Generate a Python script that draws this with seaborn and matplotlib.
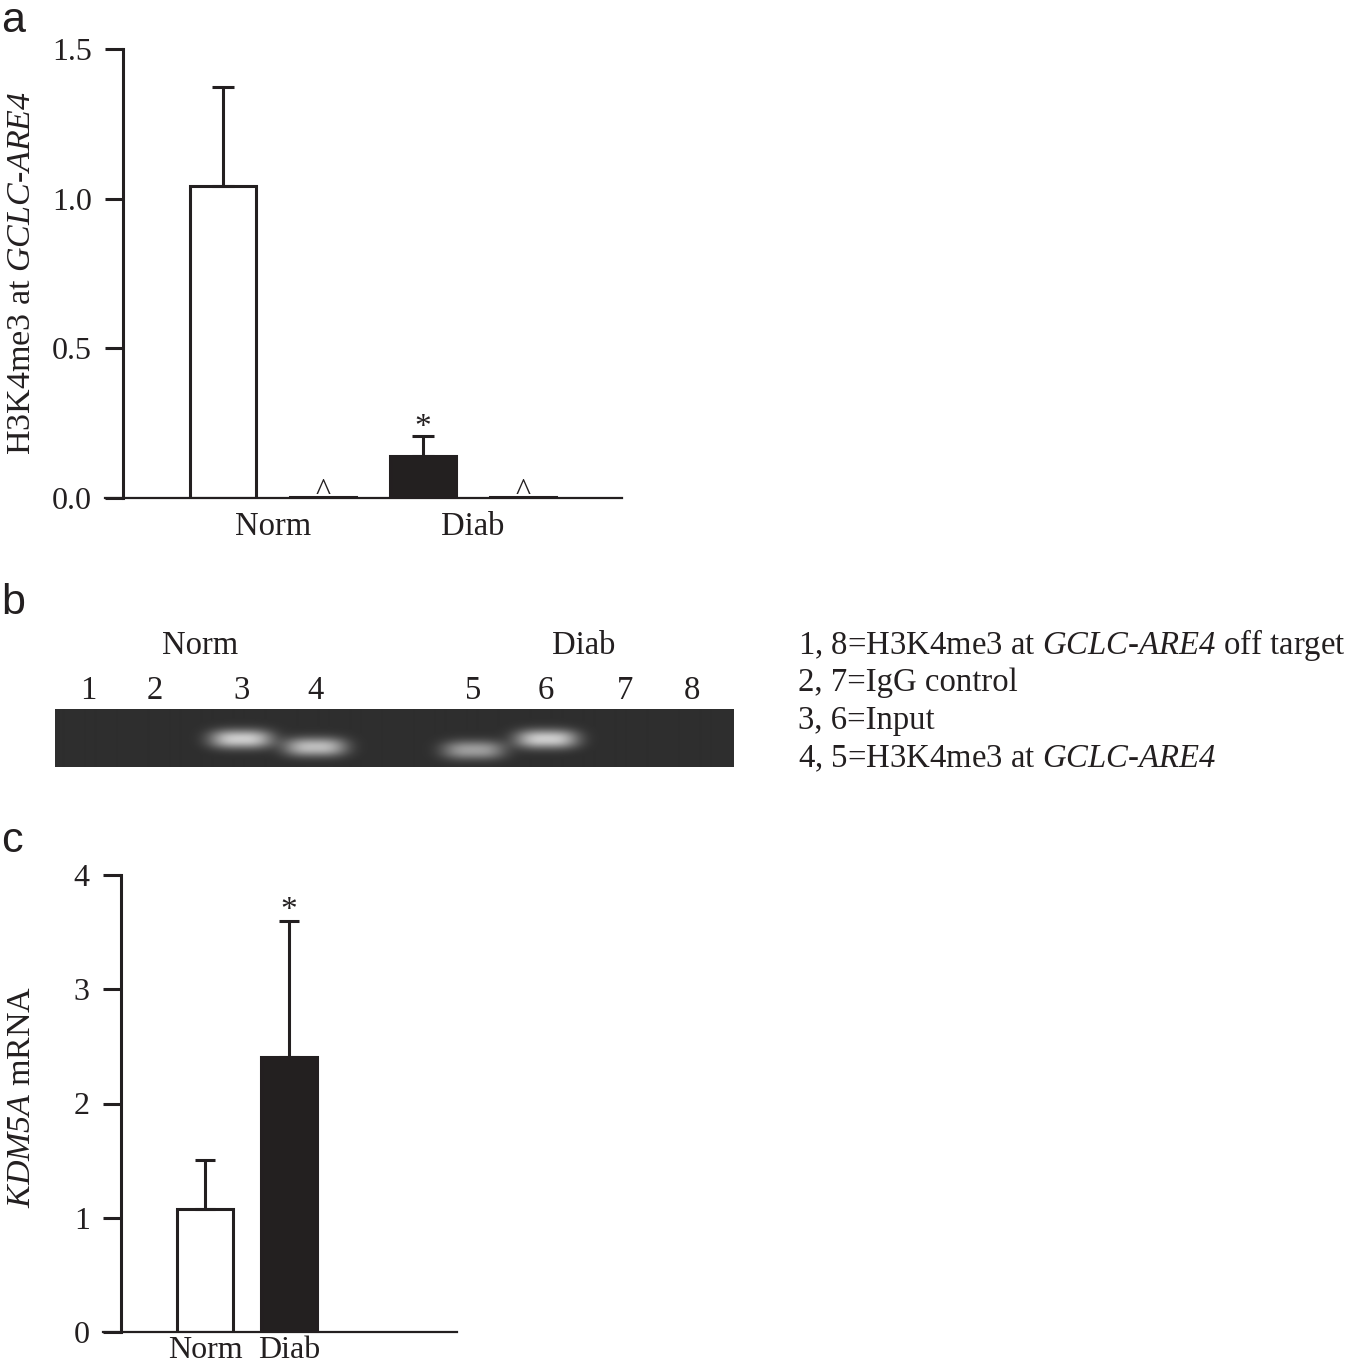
import numpy as np
import matplotlib
matplotlib.use("Agg")
import matplotlib.pyplot as plt
import seaborn as sns

# ---- panel a: ChIP, H3K4me3 at GCLC-ARE4 ----
chip_lanes = ["Norm H3K4me3", "Norm IgG", "Diab H3K4me3", "Diab IgG"]
chip_values = [1.042, 0.004, 0.14, 0.004]
chip_sem = [0.33, 0.0, 0.068, 0.0]
chip_marks = ["", "^", "*", "^"]
chip_groups = ["Norm", "Diab"]

# ---- panel b: gel ----
gel_lanes = ["1", "2", "3", "4", "5", "6", "7", "8"]
band_intensity = [0.0, 0.0, 1.0, 0.9, 0.7, 1.0, 0.0, 0.0]
band_row = [0, 0, 30, 38, 41, 30, 0, 0]   # migration, px from top of gel
gel_legend = [
    "1, 8=H3K4me3 at $\\mathsf{GCLC}$-$\\mathsf{ARE4}$ off target",
    "2, 7=IgG control",
    "3, 6=Input",
    "4, 5=H3K4me3 at $\\mathsf{GCLC}$-$\\mathsf{ARE4}$",
]

# ---- panel c: KDM5A mRNA ----
mrna_groups = ["Norm", "Diab"]
mrna_values = [1.077, 2.41]
mrna_sem = [0.43, 1.19]
mrna_marks = ["", "*"]

ink = "#231f20"
W, H = 1349, 1368

sns.set_theme(style="ticks")
plt.rcParams["font.family"] = ["Liberation Serif", "DejaVu Serif"]
plt.rcParams["mathtext.fontset"] = "custom"
plt.rcParams["mathtext.rm"] = "Liberation Serif"
plt.rcParams["mathtext.it"] = "Liberation Serif:italic"
# italic digits too (mathtext keeps digits upright in \mathit)
plt.rcParams["mathtext.sf"] = "Liberation Serif:italic"
plt.rcParams["text.color"] = ink
plt.rcParams["axes.edgecolor"] = ink
plt.rcParams["xtick.color"] = ink
plt.rcParams["ytick.color"] = ink
plt.rcParams["axes.labelcolor"] = ink

fig = plt.figure(figsize=(W / 100, H / 100), dpi=100)
fig.patch.set_facecolor("white")


def px_axes(left, top, right, bottom):
    return fig.add_axes([left / W, 1 - bottom / H, (right - left) / W, (bottom - top) / H])


def style_bar_axes(ax, spine_x):
    ax.set_facecolor("white")
    ax.spines[["top", "right"]].set_visible(False)
    ax.spines["left"].set_position(("data", spine_x))
    ax.spines["left"].set_linewidth(2.2)
    ax.spines["bottom"].set_linewidth(1.6)
    ax.tick_params(axis="y", length=13, width=2.2, pad=9.5, labelsize=23, direction="out")
    ax.tick_params(axis="x", length=0, labelsize=23.5)
    ax.grid(False)


# panel a
ax_a = px_axes(105, 49, 622, 498)
sns.barplot(x=chip_lanes, y=chip_values, hue=chip_lanes, order=chip_lanes, hue_order=chip_lanes,
            palette=["white", "white", ink, ink], edgecolor=ink, linewidth=2.2,
            width=0.66, errorbar=None, legend=False, ax=ax_a)
for i, (v, s) in enumerate(zip(chip_values, chip_sem)):
    if s > 0:
        ax_a.errorbar(i, v, yerr=[[0], [s]], fmt="none", ecolor=ink, elinewidth=2.2,
                      capsize=8, capthick=2.2, zorder=1)
    if chip_marks[i] == "*":
        ax_a.text(i, v + s + 0.028, "*", ha="center", va="center", fontsize=24)
    elif chip_marks[i] == "^":
        ax_a.text(i, v + 0.016, "^", ha="center", va="center", fontsize=23)
ax_a.set_xlim(-1.18, 3.99)
ax_a.set_ylim(0, 1.5)
ax_a.set_yticks([0, 0.5, 1.0, 1.5])
ax_a.set_xticks([0.5, 2.5], chip_groups)
style_bar_axes(ax_a, -1.0)
ax_a.tick_params(axis="x", pad=10)
ax_a.set_ylabel("H3K4me3 at $\\mathsf{GCLC}$-$\\mathsf{ARE4}$", fontsize=24.5)
ax_a.yaxis.set_label_coords(-0.131, 0.5)

# panel b: gel picture built from lane bands
ax_g = px_axes(55, 709, 733, 767)
gel_w, gel_h = 678, 58
lane_x = [33, 100, 186, 260, 418, 491, 570, 637]
xx = np.arange(gel_w) + 0.5
yy = np.arange(gel_h) + 0.5
gel = np.full((gel_h, gel_w), 0.18)
for cx, cy, amp in zip(lane_x, band_row, band_intensity):
    if amp > 0:
        prof_x = np.exp(-np.abs((xx - cx) / 31.0) ** 3)
        prof_y = np.exp(-np.abs((yy - cy) / 9.5) ** 2.2)
        gel += amp * 0.62 * np.outer(prof_y, prof_x)
gel = np.clip(gel, 0, 1)
ax_g.imshow(gel, cmap="gray", vmin=0, vmax=1, extent=(0, gel_w, gel_h, 0),
            aspect="auto", interpolation="bilinear")
ax_g.set_xlim(0, gel_w)
ax_g.set_ylim(gel_h, 0)
ax_g.set_xticks(lane_x, gel_lanes)
ax_g.xaxis.tick_top()
ax_g.tick_params(axis="x", length=0, pad=2, labelsize=23.5)
ax_g.set_yticks([])
for sp in ax_g.spines.values():
    sp.set_visible(False)
ax_g.text(np.mean(lane_x[:4]), -63, "Norm", ha="center", va="center", fontsize=23.5, clip_on=False)
ax_g.text(np.mean(lane_x[4:]), -63, "Diab", ha="center", va="center", fontsize=23.5, clip_on=False)
for k, line in enumerate(gel_legend):
    fig.text(798 / W, 1 - (645 + 38 * k) / H, line, ha="left", va="center", fontsize=23.6)

# panel c
ax_c = px_axes(103, 875, 457, 1332)
sns.barplot(x=mrna_groups, y=mrna_values, hue=mrna_groups, order=mrna_groups, hue_order=mrna_groups,
            palette=["white", ink], edgecolor=ink, linewidth=2.2,
            width=0.67, errorbar=None, legend=False, ax=ax_c)
for i, (v, s) in enumerate(zip(mrna_values, mrna_sem)):
    ax_c.errorbar(i, v, yerr=[[0], [s]], fmt="none", ecolor=ink, elinewidth=2.2,
                  capsize=7.5, capthick=2.2, zorder=1)
    if mrna_marks[i]:
        ax_c.text(i, v + s + 0.09, mrna_marks[i], ha="center", va="center", fontsize=24)
ax_c.set_xlim(-1.214, 3.0)
ax_c.set_ylim(0, 4)
ax_c.set_yticks([0, 1, 2, 3, 4])
style_bar_axes(ax_c, -1.0)
ax_c.tick_params(axis="x", pad=3, labelsize=23)
ax_c.set_ylabel("$\\mathsf{KDM5A}$ mRNA", fontsize=24.5)
ax_c.yaxis.set_label_coords(-0.186, 0.515)

# panel letters
for letter, base in zip(["a", "b", "c"], [32, 614, 852]):
    fig.text(0.001, 1 - base / H, letter, ha="left", va="baseline", fontsize=31,
             family="Liberation Sans")

fig.savefig("out.png", dpi=100)
